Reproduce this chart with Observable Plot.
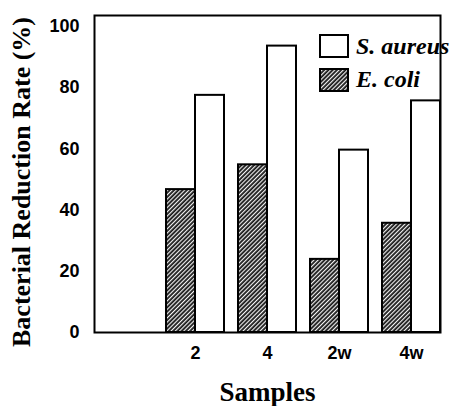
<!DOCTYPE html>
<html>
<head>
<meta charset="utf-8">
<script src="https://cdn.jsdelivr.net/npm/d3@7"></script>
<script src="https://cdn.jsdelivr.net/npm/@observablehq/plot@0.6"></script>
<style>
  html, body { margin: 0; padding: 0; background: #fff; overflow: hidden; width: 458px; height: 406px; }
  #wrap { position: relative; width: 458px; height: 406px; overflow: hidden; }
  #wrap > svg { max-width: none !important; width: 470px; height: 406px; display: block; }
  #legend { position: absolute; left: 319px; top: 34px; font-family: "Liberation Serif", "Times New Roman", serif; font-weight: bold; font-style: italic; font-size: 24px; color: #000; }
  .row { display: flex; align-items: center; height: 24px; margin-bottom: 9.6px; white-space: nowrap; }
  .sw { width: 30px; height: 24px; margin-right: 7px; display: block; }
</style>
</head>
<body>
<div id="wrap"></div>
<script>
// ---- data ----
const samples = ["0", "2", "4", "2w", "4w"];
const sampleLabels = ["", "2", "4", "2w", "4w"];
const series = ["E. coli", "S. aureus"];
const ecoliValues = [0, 46.7, 54.8, 23.9, 35.7];
const saureusValues = [0, 77.5, 93.6, 59.6, 75.7];
const yTicks = [0, 20, 40, 60, 80, 100];
const legendLabels = ["S. aureus", "E. coli"];

const rows = [];
samples.forEach((s, i) => {
  rows.push({sample: s, species: "E. coli", value: ecoliValues[i]});
  rows.push({sample: s, species: "S. aureus", value: saureusValues[i]});
});

const tickFont = {fontFamily: "Liberation Sans, Arial, sans-serif", fontWeight: "bold", fontSize: 18};
const yTitleFont = {fontFamily: "Liberation Serif, Times New Roman, serif", fontWeight: "bold", fontSize: 26};
const xTitleFont = {fontFamily: "Liberation Serif, Times New Roman, serif", fontWeight: "bold", fontSize: 27};

const chart = Plot.plot({
  width: 470,
  height: 406,
  marginLeft: 89,
  marginRight: 0,
  marginTop: 15,
  marginBottom: 74,
  facet: {marginTop: 0, marginRight: 0, marginBottom: 0, marginLeft: 0},
  style: {background: "white", color: "black", overflow: "visible", maxWidth: "none", fontSize: "18px", fontWeight: "bold", fontFamily: "Liberation Sans, Arial, sans-serif"},
  fx: {domain: samples, range: [89, 470], paddingInner: 0.188, paddingOuter: 0.2145, align: 0.154, label: null, axis: null},
  x: {domain: series, padding: 0, axis: null},
  y: {domain: [0, 103.6], range: [332, 15], axis: null},
  marks: [
    Plot.barY(rows.filter(d => d.species === "E. coli"), {fx: "sample", x: "species", y: "value", fill: "url(#hatch)", stroke: "black", strokeWidth: 2, inset: 0}),
    Plot.barY(rows.filter(d => d.species === "S. aureus"), {fx: "sample", x: "species", y: "value", fill: "white", stroke: "black", strokeWidth: 2, inset: 0}),
    Plot.axisFx({anchor: "bottom", tickSize: 0, tickPadding: 14, label: null, tickFormat: (d) => sampleLabels[samples.indexOf(d)], ...tickFont}),
    Plot.axisY({ticks: yTicks, tickSize: 0, tickPadding: 15, label: null, ...tickFont}),
    Plot.frame({facet: "super", stroke: "black", strokeWidth: 2}),
    Plot.text(["Bacterial Reduction Rate (%)"], {facet: "super", frameAnchor: "left", rotate: -90, dx: -73, dy: 8, textAnchor: "middle", lineAnchor: "middle", ...yTitleFont}),
    Plot.text(["Samples"], {facet: "super", frameAnchor: "bottom", dy: 49, lineAnchor: "top", textAnchor: "middle", ...xTitleFont})
  ]
});

const svg = chart.tagName.toLowerCase() === "svg" ? chart : chart.querySelector("svg");
const defs = d3.select(svg).insert("defs", ":first-child");
const pat = defs.append("pattern")
  .attr("id", "hatch")
  .attr("patternUnits", "userSpaceOnUse")
  .attr("width", 3)
  .attr("height", 3)
  .attr("patternTransform", "rotate(45)");
pat.append("rect").attr("width", 3).attr("height", 3).attr("fill", "#1a1a1a");
pat.append("line").attr("x1", 0.6).attr("x2", 0.6).attr("y1", 0).attr("y2", 3).attr("stroke", "white").attr("stroke-width", 1.1);

const wrap = document.getElementById("wrap");
wrap.appendChild(chart);

// legend inside the plot area
const legend = document.createElement("div");
legend.id = "legend";
const legendFills = {"S. aureus": "white", "E. coli": "url(#hatch)"};
legendLabels.forEach(lab => {
  const row = document.createElement("div");
  row.className = "row";
  row.innerHTML = `<svg class="sw" width="30" height="24"><rect x="1" y="1" width="28" height="22" fill="${legendFills[lab]}" stroke="black" stroke-width="2"/></svg><span>${lab}</span>`;
  legend.appendChild(row);
});
wrap.appendChild(legend);
</script>
</body>
</html>
